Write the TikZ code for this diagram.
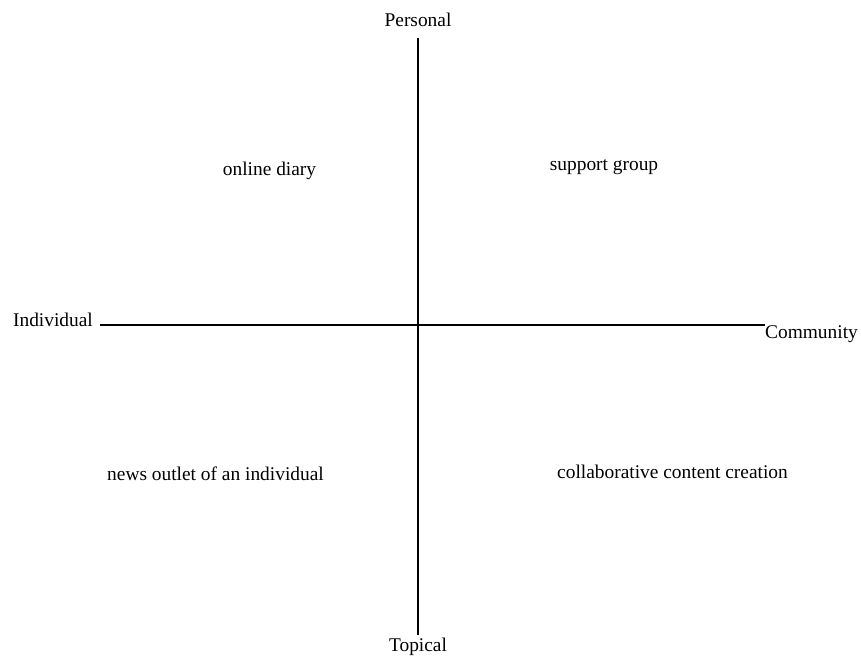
\documentclass[tikz,border=0pt]{standalone}
\usepackage{fontspec}
\setmainfont{Liberation Serif}
\begin{document}
\begin{tikzpicture}[x=0.5pt,y=-0.5pt,
	axis/.style={draw=black,line width=0.75pt},
	axislabel/.style={anchor=base,inner sep=0pt,font=\fontsize{9.7}{11}\selectfont},
	quadlabel/.style={anchor=base,inner sep=0pt,font=\fontsize{9.7}{11}\selectfont}]

	%The frame
	\useasboundingbox (0,0) rectangle (861,657);

	%The axis ends
	\coordinate (top) at (418,38);
	\coordinate (bottom) at (418,635);
	\coordinate (left) at (100,325);
	\coordinate (right) at (765,325);

	%The axes
	\draw[axis] (left) -- (right);
	\draw[axis] (top) -- (bottom);

	%The axis labels
	\node (personal) at (418,27) [axislabel] {Personal};
	\node (topical) at (418,651) [axislabel] {Topical};
	\node (individual) at (53,327) [axislabel] {Individual};
	\node (community) at (811.5,339) [axislabel] {Community};

	%The quadrants
	\node (diary) at (269.5,176) [quadlabel] {online diary};
	\node (support) at (604,171) [quadlabel] {support group};
	\node (news) at (215.5,480) [quadlabel] {news outlet of an individual};
	\node (collab) at (672.5,478) [quadlabel] {collaborative content creation};

\end{tikzpicture}
\end{document}
